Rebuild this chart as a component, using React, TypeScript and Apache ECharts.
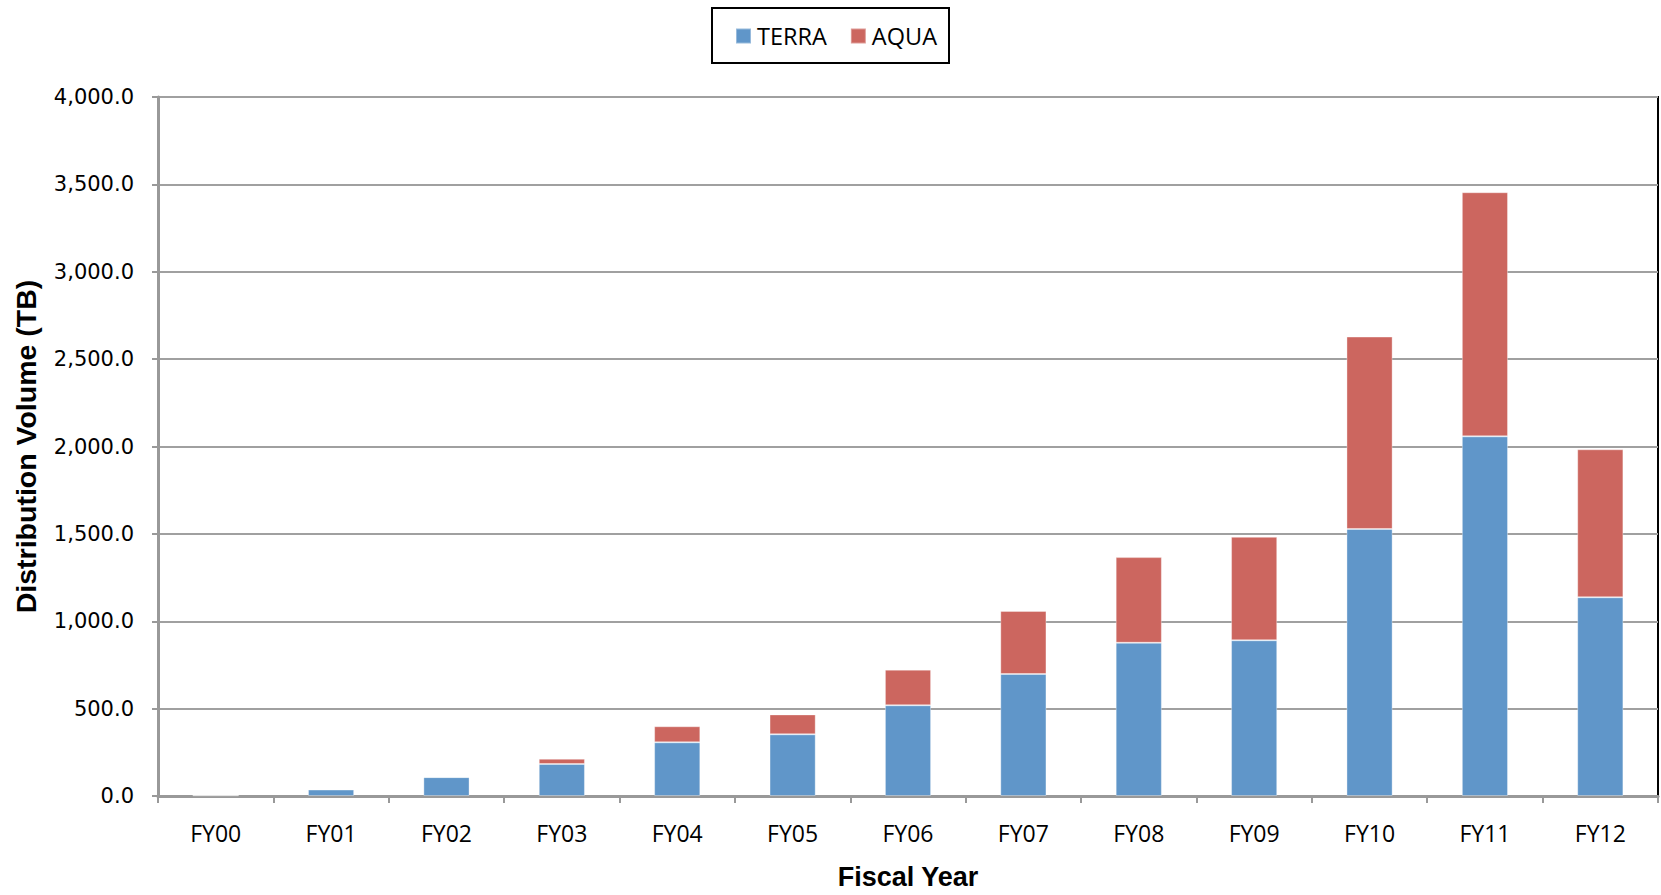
import React, { useEffect, useRef } from "react";
import * as echarts from "echarts";

// Fiscal years on the category axis
const fiscalYears = ["FY00", "FY01", "FY02", "FY03", "FY04", "FY05", "FY06", "FY07", "FY08", "FY09", "FY10", "FY11", "FY12"];

// Distribution volume (TB) per mission
const terraVolume = [4, 37, 108, 183, 307, 353, 519, 698, 877, 891, 1528, 2058, 1137];
const aquaVolume = [0, 0, 5, 30, 92, 114, 204, 361, 490, 592, 1101, 1397, 847];

// Value axis range
const yMin = 0;
const yMax = 4000;
const yStep = 500;

const TERRA_COLOR = "#6096C9";
const AQUA_COLOR = "#CC665F";

export default function App() {
  const ref = useRef<HTMLDivElement | null>(null);

  useEffect(() => {
    if (!ref.current) return;
    const chart = echarts.init(ref.current, undefined, { renderer: "svg" });

    const fmt = (v: number) =>
      v.toLocaleString("en-US", { minimumFractionDigits: 1, maximumFractionDigits: 1 });

    chart.setOption({
      animation: false,
      backgroundColor: "#ffffff",
      grid: {
        left: 158,
        right: 3,
        top: 97,
        bottom: 94,
        containLabel: false,
        show: true,
        borderColor: "#000000",
        borderWidth: 2,
        backgroundColor: "transparent",
      },
      graphic: [
        {
          type: "rect",
          left: 711,
          top: 7,
          shape: { width: 237, height: 55 },
          style: { fill: "#ffffff", stroke: "#000000", lineWidth: 2 },
          z: 0,
        },
      ],
      legend: {
        data: ["TERRA", "AQUA"],
        left: 735,
        top: 24,
        padding: 0,
        itemWidth: 15,
        itemHeight: 15,
        itemGap: 23,
        icon: "rect",
        z: 10,
        textStyle: {
          fontFamily: "Open Sans",
          fontSize: 23.5,
          color: "#000000",
          padding: [0, 0, 0, 1],
        },
      },
      xAxis: {
        type: "category",
        data: fiscalYears,
        name: "Fiscal Year",
        nameLocation: "middle",
        nameGap: 67,
        nameTextStyle: {
          fontFamily: "Liberation Sans",
          fontWeight: "bold",
          fontSize: 27,
          color: "#000000",
        },
        axisLine: { show: true, lineStyle: { color: "#999999", width: 3 } },
        axisTick: { show: true, length: 7, lineStyle: { color: "#999999", width: 2 } },
        axisLabel: {
          fontFamily: "Open Sans",
          fontSize: 23,
          color: "#000000",
          margin: 25,
        },
        splitLine: { show: false },
      },
      yAxis: {
        type: "value",
        min: yMin,
        max: yMax,
        interval: yStep,
        name: "Distribution Volume (TB)",
        nameLocation: "middle",
        nameGap: 118,
        nameTextStyle: {
          fontFamily: "Liberation Sans",
          fontWeight: "bold",
          fontSize: 28.5,
          color: "#000000",
        },
        axisLine: { show: true, lineStyle: { color: "#999999", width: 3 } },
        axisTick: { show: true, length: 6, lineStyle: { color: "#999999", width: 2 } },
        axisLabel: {
          fontFamily: "DejaVu Sans",
          fontSize: 21,
          color: "#000000",
          margin: 24,
          formatter: (v: number) => fmt(v),
        },
        splitLine: { show: true, lineStyle: { color: "#A0A0A0", width: 2 } },
      },
      series: [
        {
          name: "TERRA",
          type: "bar",
          stack: "total",
          data: terraVolume,
          barWidth: "40%",
          itemStyle: { color: TERRA_COLOR, borderColor: "rgba(255,255,255,0.35)", borderWidth: 1 },
        },
        {
          name: "AQUA",
          type: "bar",
          stack: "total",
          data: aquaVolume,
          barWidth: "40%",
          itemStyle: { color: AQUA_COLOR, borderColor: "rgba(255,255,255,0.35)", borderWidth: 1 },
        },
      ],
    });

    return () => {
      chart.dispose();
    };
  }, []);

  return (
    <div
      ref={ref}
      style={{ position: "absolute", left: 0, top: 0, width: 1661, height: 895, background: "#ffffff" }}
    />
  );
}
